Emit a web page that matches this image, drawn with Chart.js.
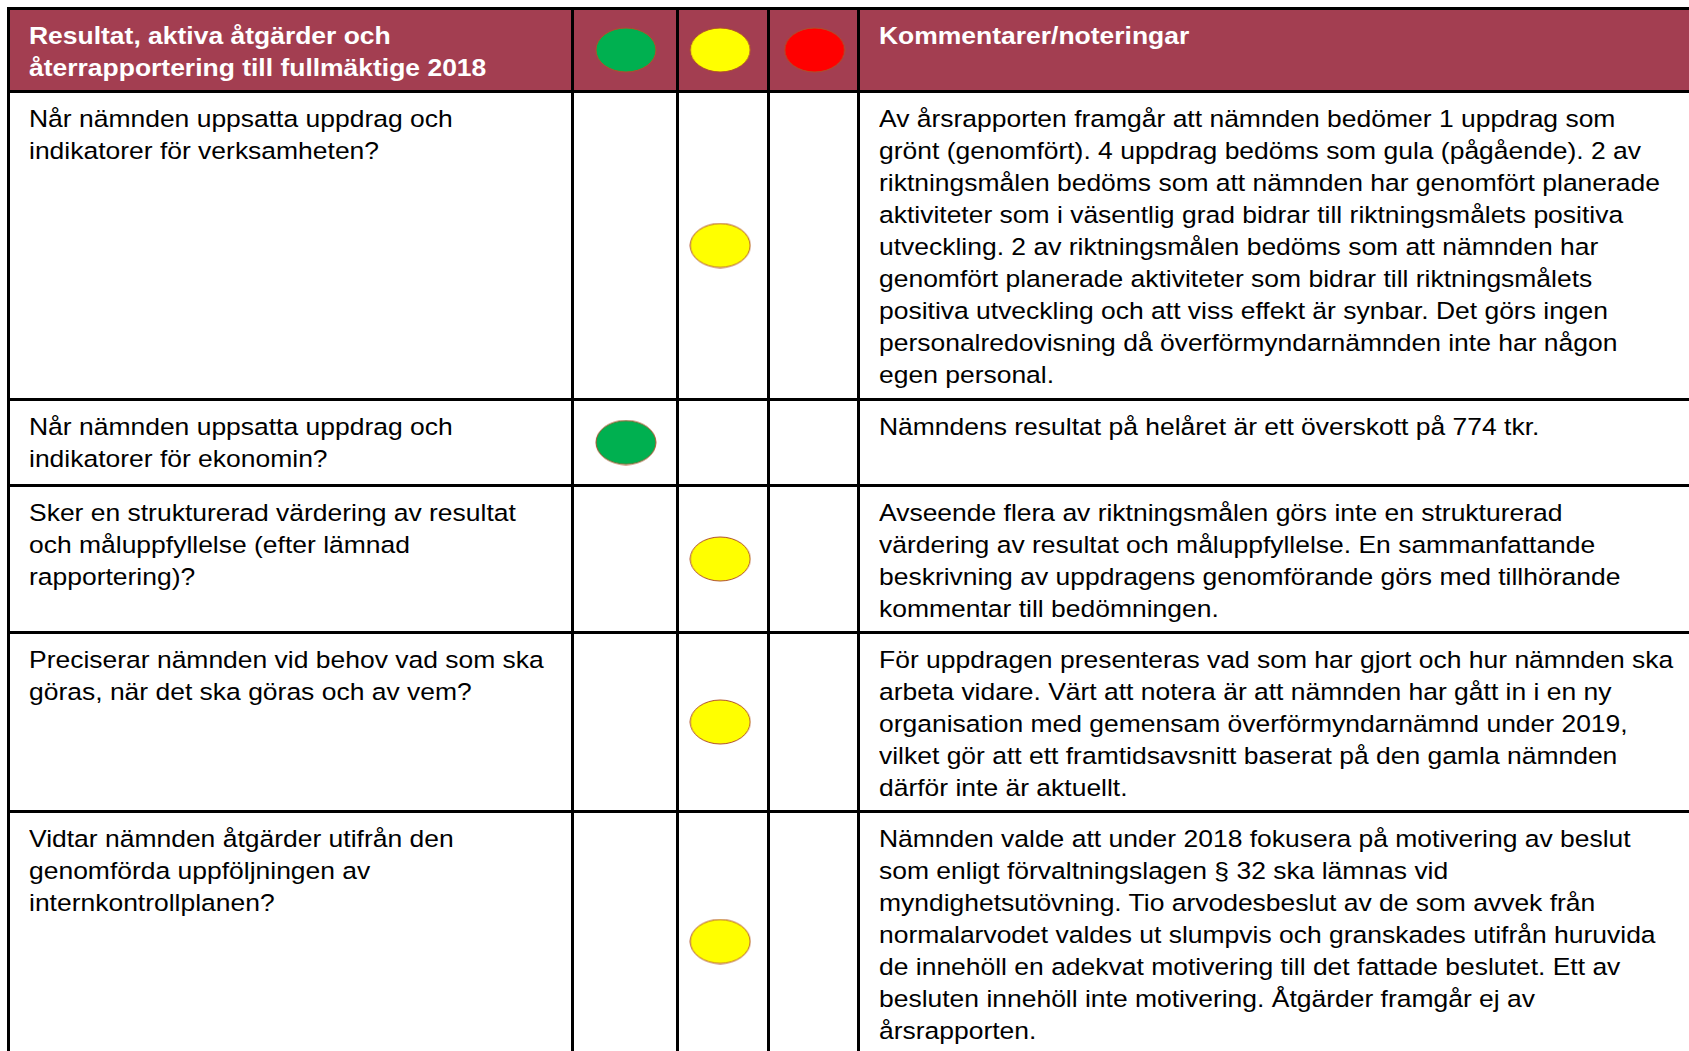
<!DOCTYPE html>
<html lang="sv">
<head>
<meta charset="utf-8">
<title>Resultat, aktiva åtgärder och återrapportering</title>
<script src="https://cdn.jsdelivr.net/npm/chart.js@4.4.0/dist/chart.umd.min.js"></script>
<style>
    html, body { margin: 0; padding: 0; background: #fff; overflow: hidden; width: 1689px; height: 1051px; }
    #tbl {
        position: absolute; left: 7px; top: 7px;
        border-collapse: collapse; table-layout: fixed; width: 1750px;
        font-family: 'Liberation Sans', Arial, sans-serif; font-size: 24.5px; line-height: 32px; color: #000;
    }
    #tbl td { border: 3px solid #000; vertical-align: top; padding: 10px 0 0 18.5px; white-space: nowrap; }
    #tbl tr.head td { background: #a33e51; color: #fff; font-weight: bold; }
    #tbl td.s { padding: 0; position: relative; }
    .txt { display: inline-block; transform: scaleX(1.08); transform-origin: 0 0; }
    .dots { position: absolute; left: 0; top: 0; width: 284px; height: 100%; z-index: 2; }
</style>
</head>
<body>
<table id="tbl">
    <colgroup>
        <col style="width:563.5px"><col style="width:105.5px"><col style="width:90.5px"><col style="width:90.5px"><col style="width:900px">
    </colgroup>
    <tbody id="rows"></tbody>
</table>
<script>
// status columns: 0 = grön, 1 = gul, 2 = röd
const statusLabels = ['Grön', 'Gul', 'Röd'];
const statusColors = ['#00b050', '#ffff00', '#ff0000'];

const headerQuestion = ['Resultat, aktiva åtgärder och', 'återrapportering till fullmäktige 2018'];
const headerComment = ['Kommentarer/noteringar'];
const headerStatus = [0, 1, 2];

const questions = [
    ['Når nämnden uppsatta uppdrag och', 'indikatorer för verksamheten?'],
    ['Når nämnden uppsatta uppdrag och', 'indikatorer för ekonomin?'],
    ['Sker en strukturerad värdering av resultat', 'och måluppfyllelse (efter lämnad', 'rapportering)?'],
    ['Preciserar nämnden vid behov vad som ska', 'göras, när det ska göras och av vem?'],
    ['Vidtar nämnden åtgärder utifrån den', 'genomförda uppföljningen av', 'internkontrollplanen?']
];

const rowStatus = [1, 0, 1, 1, 1];

const comments = [
    ['Av årsrapporten framgår att nämnden bedömer 1 uppdrag som',
     'grönt (genomfört). 4 uppdrag bedöms som gula (pågående). 2 av',
     'riktningsmålen bedöms som att nämnden har genomfört planerade',
     'aktiviteter som i väsentlig grad bidrar till riktningsmålets positiva',
     'utveckling. 2 av riktningsmålen bedöms som att nämnden har',
     'genomfört planerade aktiviteter som bidrar till riktningsmålets',
     'positiva utveckling och att viss effekt är synbar. Det görs ingen',
     'personalredovisning då överförmyndarnämnden inte har någon',
     'egen personal.'],
    ['Nämndens resultat på helåret är ett överskott på 774 tkr.'],
    ['Avseende flera av riktningsmålen görs inte en strukturerad',
     'värdering av resultat och måluppfyllelse. En sammanfattande',
     'beskrivning av uppdragens genomförande görs med tillhörande',
     'kommentar till bedömningen.'],
    ['För uppdragen presenteras vad som har gjort och hur nämnden ska',
     'arbeta vidare. Värt att notera är att nämnden har gått in i en ny',
     'organisation med gemensam överförmyndarnämnd under 2019,',
     'vilket gör att ett framtidsavsnitt baserat på den gamla nämnden',
     'därför inte är aktuellt.'],
    ['Nämnden valde att under 2018 fokusera på motivering av beslut',
     'som enligt förvaltningslagen § 32 ska lämnas vid',
     'myndighetsutövning. Tio arvodesbeslut av de som avvek från',
     'normalarvodet valdes ut slumpvis och granskades utifrån huruvida',
     'de innehöll en adekvat motivering till det fattade beslutet. Ett av',
     'besluten innehöll inte motivering. Åtgärder framgår ej av',
     'årsrapporten.']
];

const rowHeights = [83, 308, 86, 147, 179, 260];

function makeEllipse(color) {
    const c = document.createElement('canvas');
    c.width = 62;
    c.height = 46;
    const g = c.getContext('2d');
    g.beginPath();
    g.ellipse(31, 23, 30, 22, 0, 0, Math.PI * 2);
    g.fillStyle = color;
    g.fill();
    g.lineWidth = 1;
    g.strokeStyle = '#b0502a';
    g.stroke();
    return c;
}
const ellipses = statusColors.map(makeEllipse);

function textCell(lines, cls) {
    const td = document.createElement('td');
    if (cls) td.className = cls;
    const span = document.createElement('span');
    span.className = 'txt';
    span.innerHTML = lines.map(l => l.replace(/&/g, '&amp;').replace(/</g, '&lt;')).join('<br>');
    td.appendChild(span);
    return td;
}

function addRow(question, statuses, comment, height, isHead) {
    const tr = document.createElement('tr');
    if (isHead) tr.className = 'head';
    tr.style.height = height + 'px';
    tr.appendChild(textCell(question));
    let canvas = null;
    for (let i = 0; i < 3; i++) {
        const td = document.createElement('td');
        td.className = 's';
        if (i === 0) {
            const wrap = document.createElement('div');
            wrap.className = 'dots';
            canvas = document.createElement('canvas');
            wrap.appendChild(canvas);
            td.appendChild(wrap);
        }
        tr.appendChild(td);
    }
    tr.appendChild(textCell(comment));
    document.getElementById('rows').appendChild(tr);
    return { canvas, statuses };
}

const rowCharts = [addRow(headerQuestion, headerStatus, headerComment, rowHeights[0], true)];
questions.forEach((q, i) => {
    rowCharts.push(addRow(q, [rowStatus[i]], comments[i], rowHeights[i + 1], false));
});

rowCharts.forEach(r => {
    new Chart(r.canvas, {
        type: 'scatter',
        data: {
            datasets: [{
                label: 'Status',
                data: r.statuses.map(s => ({ x: s, y: 0.5 })),
                pointStyle: r.statuses.map(s => ellipses[s]),
                pointRadius: 30,
                clip: false
            }]
        },
        options: {
            responsive: true,
            maintainAspectRatio: false,
            animation: false,
            events: [],
            layout: { padding: 0, autoPadding: false },
            plugins: { legend: { display: false }, tooltip: { enabled: false } },
            scales: {
                x: { type: 'linear', min: -0.55, max: 2.46, display: false },
                y: { type: 'linear', min: 0, max: 1, display: false }
            }
        }
    });
});
</script>
</body>
</html>
